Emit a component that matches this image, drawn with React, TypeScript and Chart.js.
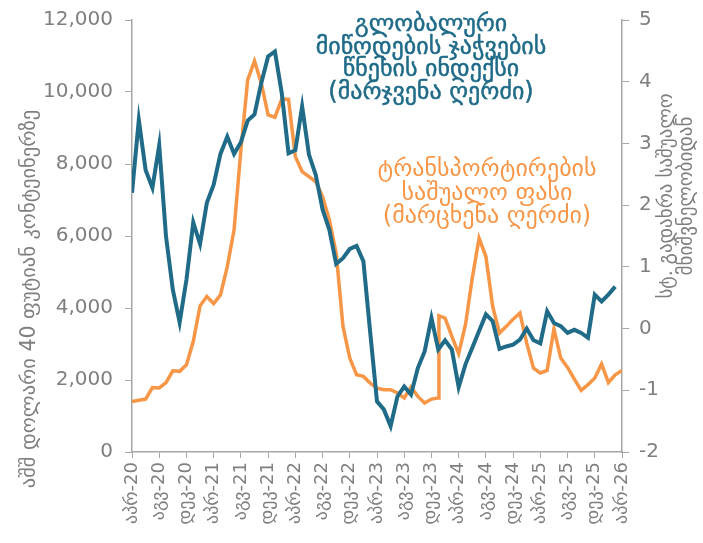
import { useEffect, useRef } from "react";
import { Chart, registerables } from "chart.js";

Chart.register(...registerables);

const xTickLabels = [
  "აპრ-20", "აგვ-20", "დეკ-20", "აპრ-21", "აგვ-21", "დეკ-21", "აპრ-22", "აგვ-22", "დეკ-22",
  "აპრ-23", "აგვ-23", "დეკ-23", "აპრ-24", "აგვ-24", "დეკ-24", "აპრ-25", "აგვ-25", "დეკ-25", "აპრ-26",
];

// months since Apr-2020
const gscpiMonths = [
  0, 1, 2, 3, 4, 5, 6, 7, 8, 9, 10, 11, 12, 13, 14, 15, 16, 17, 18, 19, 20, 21, 22, 23,
  24, 25, 26, 27, 28, 29, 30, 31, 32, 33, 34, 35, 36, 37, 38, 39, 40, 41, 42, 43, 44, 45, 46, 47,
  48, 49, 50, 51, 52, 53, 54, 55, 56, 57, 58, 59, 60, 61, 62, 63, 64, 65, 66, 67, 68, 69, 70, 71,
];
const gscpiValues = [
  2.2, 3.38, 2.57, 2.28, 2.97, 1.49, 0.63, 0.1, 0.79, 1.72, 1.37, 2.04, 2.33, 2.83, 3.11, 2.83,
  3.02, 3.37, 3.47, 3.98, 4.41, 4.49, 3.82, 2.84, 2.89, 3.6, 2.82, 2.49, 1.93, 1.6, 1.05, 1.14,
  1.29, 1.34, 1.09, -0.06, -1.18, -1.31, -1.58, -1.1, -0.94, -1.07, -0.64, -0.37, 0.17, -0.34,
  -0.19, -0.34, -0.95, -0.58, -0.31, -0.04, 0.23, 0.12, -0.33, -0.29, -0.26, -0.18, 0.0, -0.19,
  -0.24, 0.28, 0.09, 0.04, -0.07, -0.02, -0.07, -0.15, 0.55, 0.44, 0.55, 0.68,
];

const freightMonths = [
  0, 1, 2, 3, 4, 5, 6, 7, 8, 9, 10, 11, 12, 13, 14, 15, 16, 17, 18, 19, 20, 21, 22, 23,
  24, 25, 26, 27, 28, 29, 30, 31, 32, 33, 34, 35, 36, 37, 38, 39, 40, 41, 42, 43, 44, 45, 45.1,
  46, 47, 48, 49, 50, 51, 52, 53, 54, 55, 56, 57, 58, 59, 60, 61, 62, 63, 64, 65, 66, 67, 68,
  69, 70, 71, 72,
];
const freightValues = [
  1405, 1440, 1470, 1790, 1780, 1930, 2255, 2240, 2420, 3070, 4060, 4320, 4120, 4365, 5150, 6170,
  8390, 10335, 10860, 10245, 9365, 9300, 9800, 9800, 8205, 7790, 7650, 7510, 7095, 6450, 5525,
  3490, 2610, 2145, 2100, 1915, 1775, 1730, 1730, 1640, 1500, 1805, 1545, 1360, 1470, 1500, 3785,
  3720, 3210, 2730, 3535, 4830, 5940, 5430, 4040, 3305, 3490, 3690, 3860, 3025, 2330, 2195, 2265,
  3415, 2610, 2350, 2025, 1710, 1870, 2055, 2445, 1930, 2145, 2265,
];

const blueNoteLines = ["გლობალური", "მიწოდების ჯაჭვების", "წნეხის ინდექსი", "(მარჯვენა ღერძი)"];
const orangeNoteLines = ["ტრანსპორტირების", "საშუალო ფასი", "(მარცხენა ღერძი)"];
const leftAxisTitle = "აშშ დოლარი 40 ფუტიან კონტეინერზე";
const rightAxisTitleLines = ["სტ. გადახრა საშუალო", "მნიშვნელობიდან"];

const BLUE = "#1f6b88";
const ORANGE = "#f79646";
const GRAY = "#7f7f7f";
const AXIS = "#a6a6a6";
const FONT = "'DejaVu Sans', sans-serif";

const textPlugin = {
  id: "texts",
  afterDraw(chart: any) {
    const ctx = chart.ctx as CanvasRenderingContext2D;
    ctx.save();
    ctx.textAlign = "center";
    ctx.textBaseline = "middle";

    ctx.fillStyle = BLUE;
    ctx.font = `24px ${FONT}`;
    blueNoteLines.forEach((t, i) => ctx.fillText(t, 431, 25 + i * 22.5));
    ctx.lineWidth = 0.5;
    ctx.strokeStyle = BLUE;
    blueNoteLines.forEach((t, i) => ctx.strokeText(t, 431, 25 + i * 22.5));

    ctx.fillStyle = ORANGE;
    ctx.font = `24px ${FONT}`;
    orangeNoteLines.forEach((t, i) => ctx.fillText(t, 487, 170 + i * 23.5));

    ctx.fillStyle = GRAY;
    ctx.font = `20.5px ${FONT}`;
    ctx.save();
    ctx.translate(30, 299);
    ctx.rotate(-Math.PI / 2);
    ctx.fillText(leftAxisTitle, 0, 0);
    ctx.restore();

    ctx.font = `19px ${FONT}`;
    ctx.save();
    ctx.translate(677, 196);
    ctx.rotate(-Math.PI / 2);
    rightAxisTitleLines.forEach((t, i) => ctx.fillText(t, 0, -10 + i * 20));
    ctx.restore();

    ctx.restore();
  },
};

export default function App() {
  const ref = useRef<HTMLCanvasElement | null>(null);

  useEffect(() => {
    document.body.style.margin = "0";
    Chart.defaults.font.family = FONT;
    const canvas = ref.current!;
    const chart = new Chart(canvas, {
      type: "line",
      data: {
        datasets: [
          {
            label: "gscpi",
            data: gscpiMonths.map((m, i) => ({ x: m, y: gscpiValues[i] })),
            yAxisID: "y1",
            borderColor: BLUE,
            borderWidth: 4,
            pointRadius: 0,
            tension: 0,
          },
          {
            label: "freight",
            data: freightMonths.map((m, i) => ({ x: m, y: freightValues[i] })),
            yAxisID: "y",
            borderColor: ORANGE,
            borderWidth: 3.5,
            pointRadius: 0,
            tension: 0,
          },
        ],
      },
      options: {
        animation: false,
        responsive: false,
        layout: { padding: { top: 20, left: 0, right: 0, bottom: 0 } },
        plugins: { legend: { display: false }, tooltip: { enabled: false } },
        scales: {
          x: {
            type: "linear",
            min: 0,
            max: 72,
            afterFit: (s: any) => {
              s.height = 91;
            },
            ticks: {
              stepSize: 4,
              autoSkip: false,
              maxRotation: 90,
              minRotation: 90,
              padding: 4,
              color: GRAY,
              font: { size: 18 },
              callback: (v: any) => xTickLabels[Math.round(Number(v) / 4)] ?? "",
            },
            grid: { drawOnChartArea: false, drawTicks: true, tickLength: 6, color: AXIS },
            border: { color: AXIS, width: 1.5 },
          },
          y: {
            position: "left",
            min: 0,
            max: 12000,
            afterFit: (s: any) => {
              s.width = 132;
              s.paddingTop = 0;
              s.paddingBottom = 0;
            },
            ticks: {
              stepSize: 2000,
              padding: 12,
              color: GRAY,
              font: { size: 20 },
              callback: (v: any) => Number(v).toLocaleString("en-US"),
            },
            grid: { drawOnChartArea: false, drawTicks: true, tickLength: 7, color: AXIS },
            border: { color: AXIS, width: 1.5 },
          },
          y1: {
            position: "right",
            min: -2,
            max: 5,
            afterFit: (s: any) => {
              s.width = 81;
              s.paddingTop = 0;
              s.paddingBottom = 0;
            },
            ticks: {
              stepSize: 1,
              padding: 10,
              color: GRAY,
              font: { size: 20 },
            },
            grid: { drawOnChartArea: false, drawTicks: true, tickLength: 7, color: AXIS },
            border: { color: AXIS, width: 1.5 },
          },
        },
      },
      plugins: [textPlugin],
    });
    return () => chart.destroy();
  }, []);

  return (
    <div style={{ width: 703, height: 543 }}>
      <canvas ref={ref} width={703} height={543} />
    </div>
  );
}
